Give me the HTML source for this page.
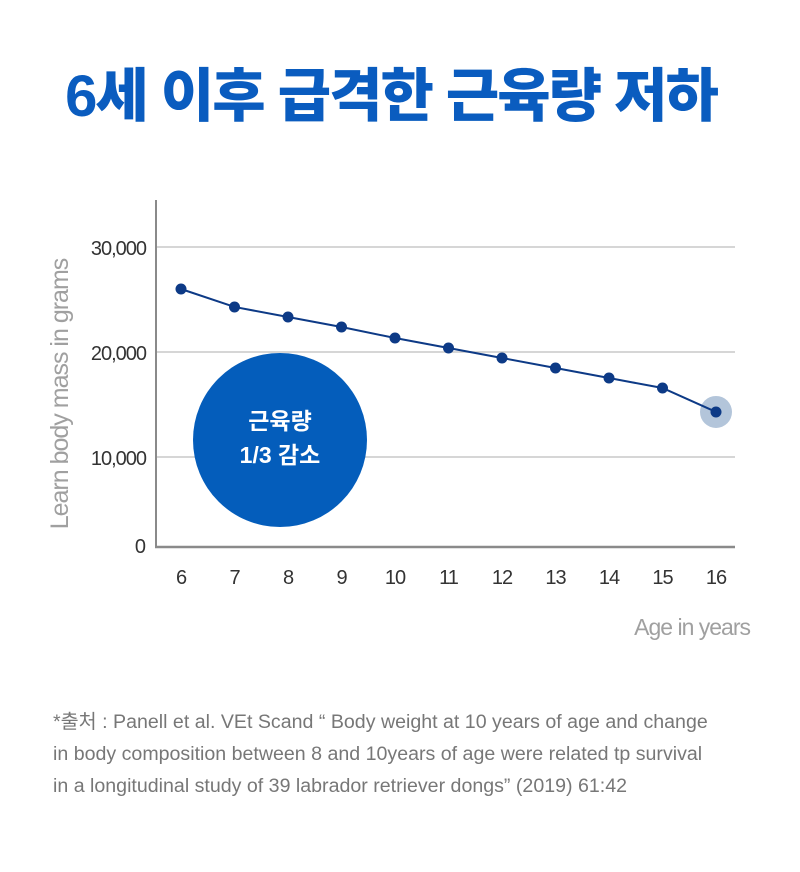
<!DOCTYPE html>
<html><head><meta charset="utf-8"><style>
body{margin:0;background:#fff;width:800px;height:867px;overflow:hidden;font-family:"Liberation Sans","Noto Sans CJK KR",sans-serif;}
</style></head><body>
<svg width="800" height="867" xmlns="http://www.w3.org/2000/svg" style="font-family:'Liberation Sans','Noto Sans CJK KR',sans-serif">
<text x="391" y="116" text-anchor="middle" font-size="58" font-weight="900" fill="#0a5cbf" letter-spacing="-2">6세 이후 급격한 근육량 저하</text>
<g id="grid"></g>
<line x1="156" y1="200" x2="156" y2="548" stroke="#8a8a8a" stroke-width="2"/>
<line x1="155" y1="547" x2="735" y2="547" stroke="#8a8a8a" stroke-width="2.5"/>
<text transform="translate(68,394) rotate(-90)" text-anchor="middle" font-size="25" fill="#a0a0a0" letter-spacing="-1">Learn body mass in grams</text>
<text x="750" y="635" text-anchor="end" font-size="23" fill="#a0a0a0" letter-spacing="-1">Age in years</text>
<circle cx="280" cy="440" r="87" fill="#045dbb"/>
<text x="280" y="429" text-anchor="middle" font-size="23" font-weight="bold" fill="#fff">근육량</text>
<text x="280" y="463" text-anchor="middle" font-size="23" font-weight="bold" fill="#fff">1/3 감소</text>
<g id="series"></g>
<g id="xticks"></g>
<text x="53" y="728" font-size="19.6" fill="#777">*출처 : Panell et al. VEt Scand “ Body weight at 10 years of age and change</text>
<text x="53" y="760" font-size="19.6" fill="#777">in body  composition between 8 and 10years of age were related tp survival</text>
<text x="53" y="792" font-size="19.6" fill="#777">in a longitudinal study of 39 labrador retriever dongs” (2019) 61:42</text>
</svg>
<script>
const ages = [6,7,8,9,10,11,12,13,14,15,16];
const mass = [26000,24290,23330,22380,21330,20380,19430,18480,17520,16570,14290];
const yTicks = [10000,20000,30000];
const yTickLabels = ["10,000","20,000","30,000"];
const NS="http://www.w3.org/2000/svg";
const xs = a => 181 + (a-6)*53.5;
const ys = v => 457 - (v-10000)*0.0105;
function mk(t,at,parent){const e=document.createElementNS(NS,t);for(const k in at)e.setAttribute(k,at[k]);parent.appendChild(e);return e;}
const grid=document.getElementById('grid');
yTicks.forEach((v,i)=>{
  const l=mk('line',{x1:156,x2:735,y1:ys(v),y2:ys(v),stroke:'#c8c8c8','stroke-width':1.5},grid);
  
  
  const t=mk('text',{x:146,y:ys(v)+8,'text-anchor':'end','font-size':20,fill:'#333','letter-spacing':-1},grid);
  t.textContent=yTickLabels[i];
  
  
});
const z=mk('text',{x:146,y:553,'text-anchor':'end','font-size':20,fill:'#333'},grid);
z.textContent="0";


const s=document.getElementById('series');
const hl=mk('circle',{cx:xs(ages[ages.length-1]),cy:ys(mass[mass.length-1]),r:16,fill:'#b3c5da'},s);


const pl=mk('polyline',{points:ages.map((a,i)=>xs(a)+','+ys(mass[i])).join(' '),fill:'none',stroke:'#0d3a86','stroke-width':2},s);


ages.forEach((a,i)=>{
  const c=mk('circle',{cx:xs(a),cy:ys(mass[i]),r:5.5,fill:'#0d3a86'},s);
  
  
});
const xt=document.getElementById('xticks');
ages.forEach(a=>{
  const t=mk('text',{x:xs(a),y:584,'text-anchor':'middle','font-size':20,fill:'#333','letter-spacing':-1},xt);
  t.textContent=a;
  
  
});
</script>
</body></html>
